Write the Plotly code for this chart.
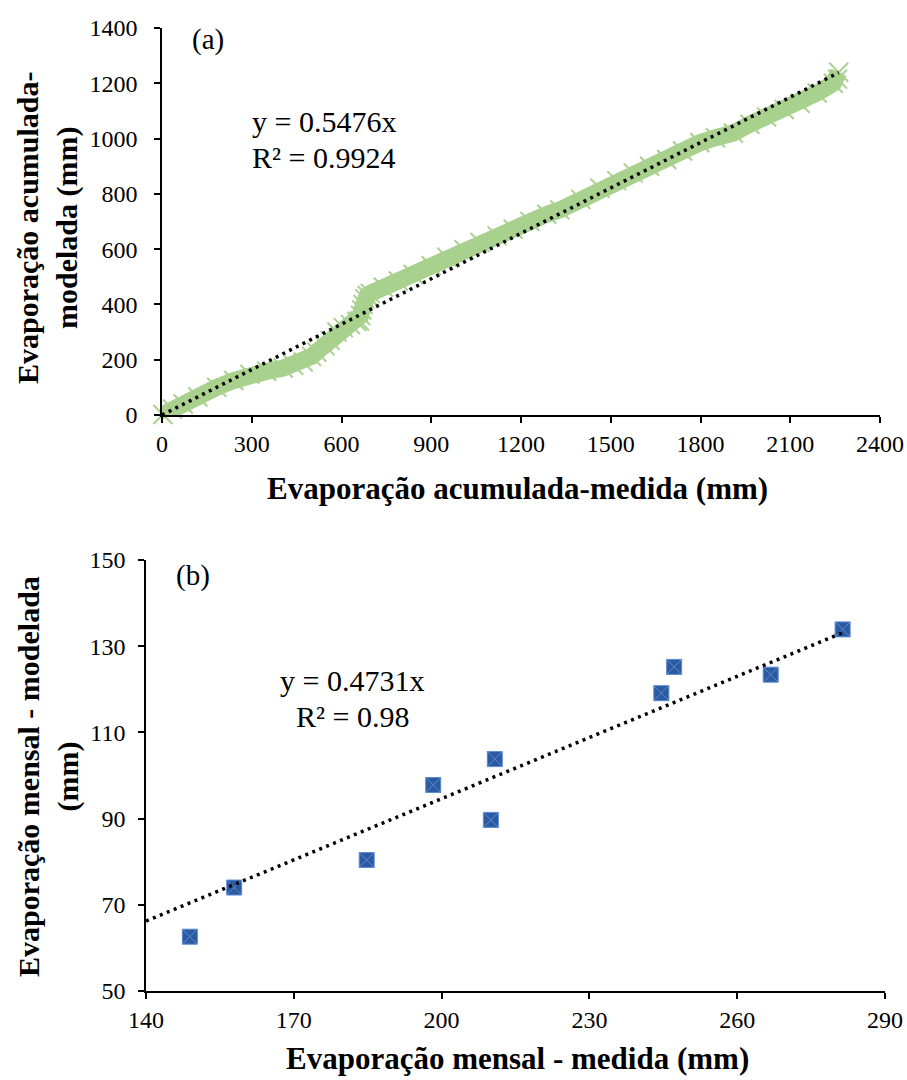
import plotly.graph_objects as go

# ---- Panel (a): cumulative evaporation (mm) ----
acc_measured = [3, 35, 71, 120, 183, 240, 294, 350, 405, 440, 472, 500, 517, 545, 562,
                585, 606, 630, 651, 660, 664, 668, 672, 678, 686, 696, 740, 790, 840,
                900, 952, 1010, 1063, 1120, 1174, 1230, 1286, 1330, 1400, 1464, 1520,
                1575, 1630, 1687, 1740, 1798, 1850, 1910, 1965, 2021, 2080, 2133, 2190,
                2244, 2258, 2262]
acc_modelled = [2, 22, 40, 65, 100, 125, 147, 158, 170, 180, 192, 212, 228, 250, 270,
                300, 316, 327, 338, 340, 360, 380, 400, 420, 432, 440, 462, 485, 508,
                540, 571, 598, 624, 648, 672, 700, 726, 742, 780, 820, 848,
                876, 900, 924, 955, 985, 1003, 1020, 1052, 1078, 1105, 1128, 1165,
                1200, 1215, 1240]
slope_a = 0.5476
r2_a = 0.9924

# ---- Panel (b): monthly evaporation (mm) ----
mon_measured = [148.9, 157.9, 184.8, 198.3, 210.0, 210.8, 244.6, 247.2, 266.8, 281.4]
mon_modelled = [62.6, 74.0, 80.4, 97.8, 89.7, 103.8, 119.1, 125.2, 123.4, 133.9]
slope_b = 0.4731
r2_b = 0.98

x_ticks_a = [0, 300, 600, 900, 1200, 1500, 1800, 2100, 2400]
y_ticks_a = [0, 200, 400, 600, 800, 1000, 1200, 1400]
x_ticks_b = [140, 170, 200, 230, 260, 290]
y_ticks_b = [50, 70, 90, 110, 130, 150]

W, H = 907, 1080
FONT = "Liberation Serif"
GREEN = "#a9d18e"

def px(x):
    return x / W

def py(y):
    return 1 - y / H

fig = go.Figure()

# panel (a) data band
fig.add_trace(go.Scatter(
    x=acc_measured, y=acc_modelled, mode="lines+markers",
    line=dict(color=GREEN, width=17),
    marker=dict(symbol="x-thin", size=19, line=dict(color=GREEN, width=2), color=GREEN),
    cliponaxis=False, showlegend=False, xaxis="x", yaxis="y"))
# panel (a) trendline
ta_x = [0, acc_measured[-1]]
fig.add_trace(go.Scatter(
    x=ta_x, y=[slope_a * v for v in ta_x], mode="lines",
    line=dict(color="black", width=3.5, dash="3px,4.5px"),
    cliponaxis=False, showlegend=False, xaxis="x", yaxis="y"))

# panel (b) points
fig.add_trace(go.Scatter(
    x=mon_measured, y=mon_modelled, mode="markers",
    marker=dict(symbol="square-x", size=15, color="#2c5aa0",
                line=dict(color="#5b8ad4", width=1)),
    cliponaxis=False, showlegend=False, xaxis="x2", yaxis="y2"))
tb_x = [x_ticks_b[0], mon_measured[-1]]
fig.add_trace(go.Scatter(
    x=tb_x, y=[slope_b * v for v in tb_x], mode="lines",
    line=dict(color="black", width=3.5, dash="3px,4.5px"),
    cliponaxis=False, showlegend=False, xaxis="x2", yaxis="y2"))

axis_common = dict(showgrid=False, zeroline=False, showline=True, linecolor="black",
                   linewidth=1.5, ticks="outside", ticklen=6, tickwidth=1.5,
                   tickcolor="black", automargin=False,
                   tickfont=dict(family=FONT, size=24, color="black"))

fig.update_layout(
    width=W, height=H,
    margin=dict(l=0, r=0, t=0, b=0, autoexpand=False),
    paper_bgcolor="white", plot_bgcolor="white",
    xaxis=dict(domain=[px(162), px(880)], range=[0, 2400], tickvals=x_ticks_a,
               anchor="y", **axis_common),
    yaxis=dict(domain=[py(415), py(28)], range=[0, 1400], tickvals=y_ticks_a,
               anchor="x", ticklabelstandoff=12, **axis_common),
    xaxis2=dict(domain=[px(146), px(885)], range=[140, 290], tickvals=x_ticks_b,
                anchor="y2", **axis_common),
    yaxis2=dict(domain=[py(991), py(560)], range=[50, 150], tickvals=y_ticks_b,
                anchor="x2", ticklabelstandoff=8, **axis_common),
)

def ann(text, x, y, size, bold=False, angle=0, xanchor="center", align="center"):
    if bold:
        text = "<b>" + text.replace("<br>", "</b><br><b>") + "</b>"
    fig.add_annotation(text=text, x=px(x), y=py(y), xref="paper", yref="paper",
                       showarrow=False, textangle=angle, xanchor=xanchor,
                       yanchor="middle", align=align,
                       font=dict(family=FONT, size=size, color="black"))

# axis titles
ann("Evaporação acumulada-medida (mm)", 517, 488, 31, bold=True)
ann("Evaporação acumulada-<br>modelada (mm)", 47, 228, 30, bold=True, angle=-90)
ann("Evaporação mensal - medida (mm)", 517, 1058, 31, bold=True)
ann("Evaporação mensal - modelada<br>(mm)", 48, 777, 30, bold=True, angle=-90)

# panel labels
ann("(a)", 190, 40, 29, xanchor="left")
ann("(b)", 174, 575, 29, xanchor="left")

# equations
ann(f"y = {slope_a}x", 250, 121, 30, xanchor="left")
ann(f"R² = {r2_a}", 250, 157, 30, xanchor="left")
ann(f"y = {slope_b}x", 352, 680, 30)
ann(f"R² = {r2_b}", 352, 716, 30)

fig.write_html(
    "out.html",
    config={"displayModeBar": False},
    post_script="document.body.style.margin='0';document.body.style.overflow='hidden';",
)
